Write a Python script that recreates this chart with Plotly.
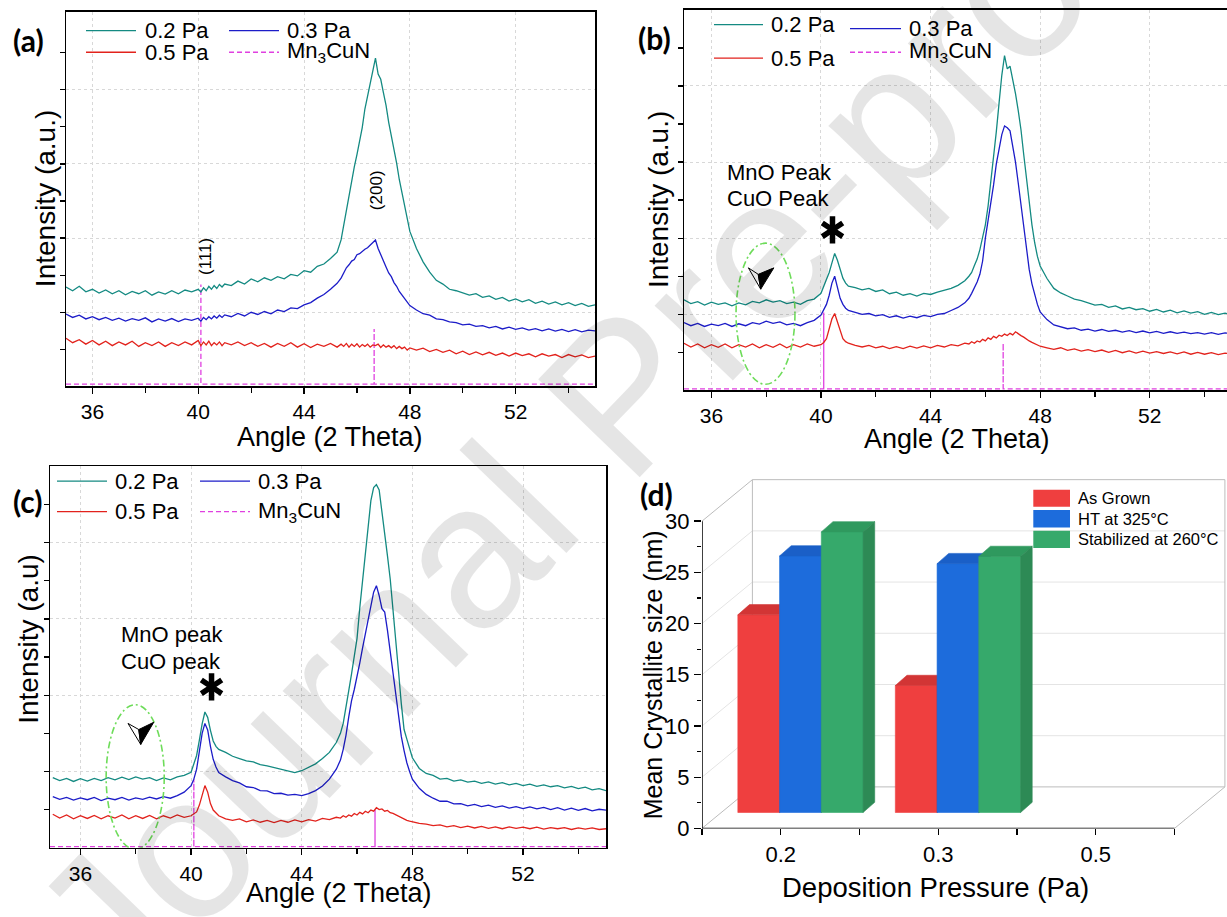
import plotly.graph_objects as go

W, H = 1227, 917
FONT = "Liberation Sans, Arial, sans-serif"
LABEL_FONT = "Lato, Open Sans, sans-serif"

# ---------------- XRD data ----------------
SEGMENTS = [(35.0, 0.25, 20), (40.0, 0.1, 11), (41.25, 0.25, 17), (45.4, 0.1, 27), (48.25, 0.25, 28)]
THETA = [round(s + i * d, 2) for s, d, n in SEGMENTS for i in range(n)]

# panel (a)
A_02 = ([2.68, 2.58, 2.70, 2.55, 2.62, 2.52, 2.60, 2.50, 2.58, 2.47, 2.56, 2.50, 2.58, 2.46, 2.55, 2.49, 2.58, 2.50, 2.60, 2.55]
        + [2.62, 2.55, 2.66, 2.58, 2.70, 2.62, 2.72, 2.64, 2.75, 2.68, 2.76]
        + [2.72, 2.84, 2.76, 2.90, 2.82, 2.93, 2.86, 2.96, 2.90, 3.02, 2.98, 3.12, 3.08, 3.24, 3.30, 3.45, 3.62]
        + [3.95, 4.35, 4.80, 5.20, 5.50, 5.92, 6.25, 6.62, 6.98, 7.48, 7.82, 8.25, 8.50, 8.85, 8.42, 8.28, 7.92, 7.58, 7.12, 6.78, 6.38, 6.02, 5.58, 5.22, 4.82, 4.52, 4.18]
        + [3.72, 3.36, 3.08, 2.86, 2.76, 2.62, 2.58, 2.52, 2.46, 2.50, 2.40, 2.44, 2.35, 2.40, 2.30, 2.36, 2.28, 2.34, 2.24, 2.30, 2.22, 2.28, 2.20, 2.26, 2.18, 2.24, 2.16, 2.20])
A_03 = ([1.95, 1.86, 1.92, 1.82, 1.88, 1.80, 1.86, 1.78, 1.84, 1.76, 1.83, 1.78, 1.85, 1.74, 1.82, 1.76, 1.83, 1.75, 1.82, 1.78]
        + [1.84, 1.76, 1.86, 1.80, 1.88, 1.82, 1.90, 1.84, 1.92, 1.86, 1.93]
        + [1.88, 1.97, 1.90, 2.00, 1.94, 2.02, 1.96, 2.06, 2.02, 2.12, 2.10, 2.20, 2.26, 2.38, 2.48, 2.62, 2.78]
        + [2.92, 3.05, 3.20, 3.28, 3.38, 3.42, 3.55, 3.58, 3.65, 3.70, 3.74, 3.82, 3.88, 3.95, 3.72, 3.55, 3.34, 3.22, 3.06, 2.96, 2.80, 2.70, 2.56, 2.46, 2.36, 2.26, 2.18]
        + [2.06, 1.96, 1.92, 1.82, 1.80, 1.74, 1.72, 1.66, 1.68, 1.62, 1.64, 1.58, 1.62, 1.55, 1.60, 1.54, 1.58, 1.52, 1.56, 1.50, 1.55, 1.49, 1.54, 1.48, 1.53, 1.47, 1.52, 1.50])
A_05 = ([1.30, 1.18, 1.26, 1.14, 1.24, 1.12, 1.22, 1.10, 1.20, 1.12, 1.22, 1.08, 1.18, 1.10, 1.20, 1.08, 1.18, 1.10, 1.20, 1.12]
        + [1.24, 1.10, 1.20, 1.12, 1.22, 1.10, 1.18, 1.12, 1.20, 1.10, 1.18]
        + [1.12, 1.20, 1.10, 1.18, 1.08, 1.16, 1.06, 1.16, 1.08, 1.18, 1.06, 1.15, 1.05, 1.14, 1.08, 1.16, 1.06]
        + [1.14, 1.08, 1.16, 1.06, 1.14, 1.08, 1.15, 1.06, 1.13, 1.08, 1.14, 1.06, 1.12, 1.10, 1.14, 1.05, 1.12, 1.06, 1.10, 1.04, 1.10, 1.02, 1.08, 1.02, 1.06, 0.98, 1.04]
        + [0.98, 1.03, 0.94, 1.00, 0.92, 0.98, 0.88, 0.95, 0.86, 0.93, 0.85, 0.92, 0.84, 0.90, 0.82, 0.90, 0.83, 0.88, 0.80, 0.88, 0.82, 0.86, 0.78, 0.86, 0.80, 0.85, 0.78, 0.82])

# panel (b)
B_02 = ([2.38, 2.28, 2.33, 2.24, 2.32, 2.26, 2.30, 2.22, 2.30, 2.25, 2.34, 2.30, 2.38, 2.32, 2.36, 2.28, 2.32, 2.26, 2.36, 2.40]
        + [2.55, 2.72, 2.90, 3.10, 3.35, 3.60, 3.42, 3.15, 2.95, 2.82, 2.74]
        + [2.70, 2.64, 2.68, 2.60, 2.64, 2.54, 2.58, 2.50, 2.54, 2.48, 2.55, 2.52, 2.58, 2.62, 2.68, 2.76, 2.88]
        + [3.00, 3.10, 3.28, 3.45, 3.70, 4.00, 4.35, 4.85, 5.45, 6.05, 6.80, 7.55, 8.28, 8.80, 8.45, 8.52, 8.18, 7.80, 7.35, 6.85, 6.20, 5.55, 4.90, 4.35, 3.88, 3.52, 3.27]
        + [2.94, 2.68, 2.56, 2.48, 2.40, 2.36, 2.30, 2.24, 2.26, 2.18, 2.22, 2.14, 2.18, 2.12, 2.15, 2.08, 2.13, 2.06, 2.11, 2.04, 2.09, 2.03, 2.07, 2.00, 2.05, 1.99, 2.03, 1.99])
B_03 = ([1.78, 1.70, 1.76, 1.68, 1.74, 1.70, 1.76, 1.68, 1.75, 1.70, 1.78, 1.74, 1.82, 1.76, 1.80, 1.72, 1.76, 1.70, 1.78, 1.84]
        + [1.98, 2.12, 2.26, 2.50, 2.82, 3.00, 2.70, 2.42, 2.26, 2.16, 2.10]
        + [2.04, 2.00, 2.02, 1.96, 1.99, 1.92, 1.96, 1.90, 1.95, 1.91, 1.97, 1.94, 2.00, 2.02, 2.10, 2.18, 2.30]
        + [2.42, 2.55, 2.68, 2.85, 3.05, 3.40, 4.00, 4.45, 4.90, 5.40, 5.95, 6.35, 6.72, 6.95, 6.90, 6.82, 6.46, 6.00, 5.45, 4.85, 4.22, 3.70, 3.18, 2.80, 2.50, 2.26, 2.06]
        + [1.86, 1.72, 1.68, 1.62, 1.64, 1.58, 1.61, 1.56, 1.60, 1.55, 1.58, 1.53, 1.57, 1.52, 1.56, 1.51, 1.55, 1.50, 1.54, 1.50, 1.53, 1.49, 1.52, 1.48, 1.52, 1.47, 1.51, 1.49])
B_05 = ([1.24, 1.14, 1.22, 1.12, 1.20, 1.13, 1.22, 1.12, 1.20, 1.14, 1.22, 1.12, 1.20, 1.13, 1.22, 1.12, 1.20, 1.14, 1.22, 1.16]
        + [1.20, 1.26, 1.36, 1.62, 1.88, 2.02, 1.80, 1.54, 1.36, 1.28, 1.24]
        + [1.18, 1.14, 1.18, 1.12, 1.16, 1.10, 1.15, 1.10, 1.16, 1.11, 1.17, 1.12, 1.18, 1.14, 1.20, 1.17, 1.24]
        + [1.22, 1.28, 1.24, 1.30, 1.27, 1.34, 1.30, 1.38, 1.34, 1.42, 1.38, 1.45, 1.42, 1.48, 1.44, 1.50, 1.46, 1.54, 1.48, 1.44, 1.40, 1.34, 1.30, 1.26, 1.22, 1.20, 1.16]
        + [1.12, 1.08, 1.12, 1.05, 1.09, 1.03, 1.07, 1.02, 1.06, 1.00, 1.05, 0.99, 1.04, 0.98, 1.03, 0.98, 1.02, 0.97, 1.01, 0.96, 1.01, 0.95, 1.00, 0.95, 0.99, 0.94, 0.98, 0.95])

# panel (c)
C_02 = ([1.84, 1.76, 1.82, 1.74, 1.81, 1.75, 1.82, 1.76, 1.84, 1.78, 1.85, 1.79, 1.86, 1.80, 1.84, 1.76, 1.83, 1.78, 1.86, 1.90]
        + [1.98, 2.18, 2.42, 2.82, 3.25, 3.56, 3.42, 3.08, 2.80, 2.66, 2.58]
        + [2.50, 2.40, 2.34, 2.28, 2.25, 2.18, 2.15, 2.10, 2.05, 2.02, 1.97, 2.02, 2.10, 2.20, 2.34, 2.50, 2.76]
        + [3.00, 3.26, 3.65, 4.12, 4.55, 5.00, 5.49, 6.30, 7.04, 7.80, 8.41, 9.10, 9.44, 9.52, 9.38, 8.84, 8.24, 7.65, 7.04, 6.30, 5.49, 4.62, 3.78, 3.10, 2.85, 2.58, 2.36]
        + [2.08, 1.95, 1.90, 1.80, 1.82, 1.75, 1.78, 1.72, 1.75, 1.69, 1.73, 1.67, 1.71, 1.65, 1.69, 1.63, 1.67, 1.61, 1.65, 1.60, 1.63, 1.57, 1.61, 1.55, 1.59, 1.52, 1.55, 1.50])
C_03 = ([1.34, 1.27, 1.32, 1.25, 1.31, 1.26, 1.32, 1.24, 1.30, 1.26, 1.32, 1.25, 1.31, 1.27, 1.33, 1.28, 1.34, 1.30, 1.37, 1.46]
        + [1.63, 1.80, 2.06, 2.58, 3.00, 3.26, 3.09, 2.66, 2.32, 2.12, 1.97]
        + [1.86, 1.76, 1.70, 1.60, 1.58, 1.50, 1.49, 1.42, 1.43, 1.38, 1.40, 1.37, 1.42, 1.50, 1.62, 1.80, 2.06]
        + [2.30, 2.58, 2.95, 3.43, 3.85, 4.15, 4.46, 4.85, 5.24, 5.60, 6.00, 6.35, 6.70, 6.87, 6.61, 6.27, 6.18, 5.70, 5.15, 4.55, 3.95, 3.40, 2.92, 2.55, 2.23, 2.00, 1.80]
        + [1.56, 1.40, 1.30, 1.22, 1.22, 1.15, 1.16, 1.10, 1.14, 1.08, 1.12, 1.06, 1.10, 1.04, 1.08, 1.03, 1.07, 1.02, 1.06, 1.00, 1.05, 0.99, 1.04, 0.98, 1.03, 0.97, 1.01, 0.99])
C_05 = ([0.88, 0.78, 0.86, 0.76, 0.84, 0.77, 0.85, 0.76, 0.84, 0.78, 0.86, 0.76, 0.84, 0.77, 0.85, 0.76, 0.84, 0.78, 0.86, 0.80]
        + [0.84, 0.88, 0.94, 1.12, 1.37, 1.63, 1.46, 1.16, 0.99, 0.90, 0.84]
        + [0.76, 0.72, 0.76, 0.68, 0.73, 0.67, 0.72, 0.66, 0.72, 0.67, 0.73, 0.68, 0.74, 0.70, 0.77, 0.74, 0.80]
        + [0.78, 0.84, 0.80, 0.86, 0.83, 0.90, 0.86, 0.93, 0.89, 0.96, 0.92, 0.99, 0.96, 1.05, 1.00, 1.02, 0.96, 0.98, 0.92, 0.90, 0.86, 0.84, 0.78, 0.76, 0.72, 0.70, 0.68]
        + [0.64, 0.62, 0.58, 0.60, 0.55, 0.58, 0.53, 0.57, 0.52, 0.56, 0.51, 0.55, 0.50, 0.55, 0.51, 0.54, 0.50, 0.54, 0.49, 0.53, 0.50, 0.53, 0.48, 0.52, 0.49, 0.52, 0.48, 0.50])

# Mn3CuN reference pattern: peak positions and drawn stick heights per panel
REF_POS = [40.1, 46.65]
REF_A = [2.75, 1.55]
REF_B = [2.05, 1.24]
REF_C = [1.80, 0.99]
REF_BASE = [0.06, 0.04, 0.03]

# ---------------- Bar data (panel d) ----------------
PRESSURES = ["0.2", "0.3", "0.5"]
AS_GROWN = [19.3, 12.4, None]
HT_325 = [25.05, 24.3, None]
STAB_260 = [27.4, 25.0, None]
BAR_SERIES = ["As Grown", "HT at 325°C", "Stabilized at 260°C"]

for s in (A_02, A_03, A_05, B_02, B_03, B_05, C_02, C_03, C_05):
    assert len(s) == len(THETA), (len(s), len(THETA))

TEAL, BLUE, RED, MAG = "#148a82", "#1c1cc8", "#e2221c", "#e040e0"
ELL = "#6edc5a"


def px(x):
    return x / W


def py(y):
    return 1 - y / H


fig = go.Figure()
shapes, annotations = [], []

panels = [
    dict(ax="", xr=[35, 55], yr=[0, 10.1], xd=[66, 595], yd=[12, 392], data=(A_02, A_03, A_05), ref=REF_A, base=REF_BASE[0], mirror_y=True),
    dict(ax="2", xr=[35, 54.82], yr=[0, 10.0], xd=[684, 1227], yd=[10, 396], data=(B_02, B_03, B_05), ref=REF_B, base=REF_BASE[1], mirror_y=False),
    dict(ax="3", xr=[34.9, 55], yr=[0, 10.0], xd=[50, 606], yd=[473, 860], data=(C_02, C_03, C_05), ref=REF_C, base=REF_BASE[2], mirror_y=True),
]

layout_axes = {}
for p in panels:
    xa, ya = "x" + p["ax"], "y" + p["ax"]
    xmin, xmax = p["xr"]
    b = p["base"]
    sx, sy = [xmin], [b]
    for pos, hgt in zip(REF_POS, p["ref"]):
        sx += [pos, pos, pos]
        sy += [b, hgt, b]
    sx.append(xmax)
    sy.append(b)
    fig.add_trace(go.Scatter(x=sx, y=sy, mode="lines", line=dict(color=MAG, width=1.3, dash="5px,3px"),
                             xaxis=xa, yaxis=ya, showlegend=False, name="Mn3CuN"))
    for series, col, nm in zip(p["data"], (TEAL, BLUE, RED), ("0.2 Pa", "0.3 Pa", "0.5 Pa")):
        fig.add_trace(go.Scatter(x=THETA, y=series, mode="lines", line=dict(color=col, width=1.3),
                                 xaxis=xa, yaxis=ya, showlegend=False, name=nm))
    key = p["ax"]
    layout_axes["xaxis" + key] = dict(
        domain=[px(p["xd"][0]), px(p["xd"][1])], range=p["xr"], anchor=ya,
        tickvals=[36, 40, 44, 48, 52], ticks="outside", ticklen=6, tickwidth=1.3, tickcolor="black",
        showline=True, linecolor="black", linewidth=1.5, mirror=True,
        showgrid=True, gridcolor="#d8d8d8", griddash="dot", gridwidth=1, zeroline=False,
        tickfont=dict(family=FONT, size=21, color="black"),
        minor=dict(tickvals=[38, 42, 46, 50, 54], ticks="outside", ticklen=5, tickcolor="black", showgrid=False),
        fixedrange=True)
    layout_axes["yaxis" + key] = dict(
        domain=[py(p["yd"][1]), py(p["yd"][0])], range=p["yr"], anchor=xa,
        tickvals=[2, 4, 6, 8], ticks="outside", ticklen=5, tickwidth=1.3, tickcolor="black",
        showticklabels=False, showline=True, linecolor="black", linewidth=1.5, mirror=p["mirror_y"],
        showgrid=True, gridcolor="#d8d8d8", griddash="dot", gridwidth=1, zeroline=False,
        minor=dict(tickvals=[1, 3, 5, 7, 9], ticks="outside", ticklen=5, tickcolor="black", showgrid=False),
        fixedrange=True)


def legend_entry(x0, x1, y, color, dash, text, tx, size=22):
    shapes.append(dict(type="line", xref="paper", yref="paper", x0=px(x0), x1=px(x1), y0=py(y), y1=py(y),
                       line=dict(color=color, width=1.3, dash=dash)))
    annotations.append(dict(text=text, x=px(tx), y=py(y), xref="paper", yref="paper", xanchor="left",
                            yanchor="middle", showarrow=False, font=dict(family=FONT, size=size, color="black")))


MN = "Mn<sub>3</sub>CuN"
# legend (a)
legend_entry(86, 136, 31, TEAL, "solid", "0.2 Pa", 143)
legend_entry(229, 279, 31, BLUE, "solid", "0.3 Pa", 285)
legend_entry(86, 136, 53, RED, "solid", "0.5 Pa", 143)
legend_entry(229, 279, 53, MAG, "5px,3px", MN, 285)
# legend (b)
legend_entry(714, 763, 25, TEAL, "solid", "0.2 Pa", 769)
legend_entry(850, 901, 29, BLUE, "solid", "0.3 Pa", 907)
legend_entry(714, 763, 59, RED, "solid", "0.5 Pa", 769)
legend_entry(850, 901, 53, MAG, "5px,3px", MN, 907)
# legend (c)
legend_entry(57, 107, 488, TEAL, "solid", "0.2 Pa", 113)
legend_entry(200, 250, 488, BLUE, "solid", "0.3 Pa", 256)
legend_entry(57, 107, 519, RED, "solid", "0.5 Pa", 113)
legend_entry(200, 250, 519, MAG, "5px,3px", MN, 256)


def paper_text(text, x, y, size, angle=0, bold=False, family=FONT):
    annotations.append(dict(text=f"<b>{text}</b>" if bold else text, x=px(x), y=py(y), xref="paper", yref="paper",
                            xanchor="center", yanchor="middle", showarrow=False, textangle=angle,
                            font=dict(family=family, size=size, color="black")))


# axis titles & panel labels
paper_text("Angle (2 Theta)", 330, 443, 27)
paper_text("Intensity (a.u.)", 45, 202, 28, -90)
paper_text("Angle (2 Theta)", 957, 445, 27)
paper_text("Intensity (a.u.)", 658, 203, 28, -90)
paper_text("Angle (2 Theta)", 339, 906, 27)
paper_text("Intensity (a.u)", 29, 648, 28, -90)
paper_text("Deposition Pressure (Pa)", 935, 900, 27.5)
paper_text("Mean Crystallite size (nm)", 653, 685, 25, -90)
paper_text("(a)", 28, 41, 30, bold=True, family=LABEL_FONT)
paper_text("(b)", 654, 39, 30, bold=True, family=LABEL_FONT)
paper_text("(c)", 28, 508, 30, bold=True, family=LABEL_FONT)
paper_text("(d)", 656, 501, 30, bold=True, family=LABEL_FONT)


def data_text(text, x, y, ax, size, angle=0):
    annotations.append(dict(text=text, x=x, y=y, xref="x" + ax, yref="y" + ax, xanchor="center", yanchor="middle",
                            showarrow=False, textangle=angle, font=dict(family=FONT, size=size, color="black")))


data_text("(111)", 40.27, 3.5, "", 17, -90)
data_text("(200)", 46.74, 5.28, "", 17, -90)
data_text("MnO Peak", 38.5, 5.73, "2", 22)
data_text("CuO Peak", 38.43, 5.03, "2", 22)
data_text("MnO peak", 39.3, 5.6, "3", 22)
data_text("CuO peak", 39.28, 4.89, "3", 22)

# asterisks
for ax, (ax_x, ax_y) in (("2", (40.42, 4.22)), ("3", (40.74, 4.22))):
    for sym in ("y-up-open", "y-down-open"):
        fig.add_trace(go.Scatter(x=[ax_x], y=[ax_y], mode="markers", xaxis="x" + ax, yaxis="y" + ax,
                                 marker=dict(symbol=sym, size=17, color="black", line=dict(width=5.5, color="black")),
                                 showlegend=False, hoverinfo="skip"))

# ellipses and arrow-heads
for ax, (x0, x1, y0, y1), (L, N, T, R) in (
        ("2", (36.9, 39.05, 0.16, 3.87), ((37.35, 3.22), (37.71, 3.05), (37.80, 2.66), (38.28, 3.22))),
        ("3", (36.93, 39.03, -0.04, 3.75), ((37.72, 3.26), (38.11, 3.10), (38.18, 2.71), (38.65, 3.29)))):
    shapes.append(dict(type="circle", xref="x" + ax, yref="y" + ax, x0=x0, x1=x1, y0=y0, y1=y1,
                       line=dict(color=ELL, width=1.6, dash="7px,3px,2px,3px")))
    left = f"M{L[0]},{L[1]} L{N[0]},{N[1]} L{T[0]},{T[1]} Z"
    right = f"M{R[0]},{R[1]} L{N[0]},{N[1]} L{T[0]},{T[1]} Z"
    shapes.append(dict(type="path", xref="x" + ax, yref="y" + ax, path=left, fillcolor="white",
                       line=dict(color="black", width=1)))
    shapes.append(dict(type="path", xref="x" + ax, yref="y" + ax, path=right, fillcolor="black",
                       line=dict(color="black", width=1)))

# ---------------- panel (d): pseudo-3D bars ----------------
DX, DY = 0.32, 4.05          # depth of the box (category units, nm units)
BASE, SHIFT = 1.55, 0.125    # bar plane offset
BW, BDX, BDY = 0.265, 0.074, 1.0
FACE = [("#ef3f3f", "#d23535", "#c22f2f"), ("#1d6cdc", "#1a5fc7", "#1855b3"), ("#36a96b", "#2f995e", "#2d8a55")]

grid = "#e4e4e4"
frame = "#bcbcbc"
for v in (5, 10, 15, 20, 25):
    shapes.append(dict(type="line", xref="x4", yref="y4", x0=0.5 + DX, x1=3.5 + DX, y0=v + DY, y1=v + DY,
                       line=dict(color=grid, width=1), layer="below"))
    shapes.append(dict(type="line", xref="x4", yref="y4", x0=0.5, x1=0.5 + DX, y0=v, y1=v + DY,
                       line=dict(color=grid, width=1), layer="below"))
for (xa0, ya0, xa1, ya1) in ((0.5, 0, 0.5 + DX, DY), (0.5, 30, 0.5 + DX, 30 + DY), (3.5, 0, 3.5 + DX, DY),
                             (0.5 + DX, DY, 0.5 + DX, 30 + DY), (0.5 + DX, 30 + DY, 3.5 + DX, 30 + DY),
                             (3.5 + DX, DY, 3.5 + DX, 30 + DY), (0.5 + DX, DY, 3.5 + DX, DY)):
    shapes.append(dict(type="line", xref="x4", yref="y4", x0=xa0, x1=xa1, y0=ya0, y1=ya1,
                       line=dict(color=frame, width=1), layer="below"))
shapes.append(dict(type="line", xref="x4", yref="y4", x0=0.5, x1=0.5, y0=0, y1=30, line=dict(color="black", width=1.5)))
shapes.append(dict(type="line", xref="x4", yref="y4", x0=0.5, x1=3.5, y0=0, y1=0, line=dict(color="black", width=1.5)))


def poly(xs, ys, color, name):
    fig.add_trace(go.Scatter(x=xs + [xs[0]], y=ys + [ys[0]], mode="lines", fill="toself", fillcolor=color,
                             line=dict(color=color, width=0.6), xaxis="x4", yaxis="y4", showlegend=False,
                             name=name, hoverinfo="skip"))


for ci, cat in enumerate(PRESSURES):
    center = ci + 1
    for k, vals in enumerate((AS_GROWN, HT_325, STAB_260)):
        v = vals[ci]
        if v is None:
            continue
        x0 = center + SHIFT - 1.5 * BW + k * BW
        x1 = x0 + BW
        top = BASE + v
        front, tcol, scol = FACE[k]
        poly([x0, x1, x1, x0], [BASE, BASE, top, top], front, BAR_SERIES[k])
        poly([x0, x1, x1 + BDX, x0 + BDX], [top, top, top + BDY, top + BDY], tcol, BAR_SERIES[k])
        poly([x1, x1 + BDX, x1 + BDX, x1], [BASE, BASE + BDY, top + BDY, top], scol, BAR_SERIES[k])

layout_axes["xaxis4"] = dict(domain=[px(702), px(1226.5)], range=[0.5, 3.83], anchor="y4",
                             tickvals=[1, 2, 3], ticktext=PRESSURES, ticks="outside", ticklen=6, tickwidth=1.3,
                             tickcolor="black", showline=False, showgrid=False, zeroline=False,
                             tickfont=dict(family=FONT, size=22, color="black"),
                             minor=dict(tickvals=[0.5, 1.5, 2.5, 3.5], ticks="outside", ticklen=6, tickcolor="black"),
                             fixedrange=True)
layout_axes["yaxis4"] = dict(domain=[py(840.3), py(485)], range=[0, 34.2], anchor="x4",
                             tickvals=[0, 5, 10, 15, 20, 25, 30], ticks="outside", ticklen=7, tickwidth=1.3,
                             tickcolor="black", showline=False, showgrid=False, zeroline=False,
                             tickfont=dict(family=FONT, size=22, color="black"),
                             minor=dict(tickvals=[2.5, 7.5, 12.5, 17.5, 22.5, 27.5], ticks="outside", ticklen=4,
                                        tickcolor="black"),
                             fixedrange=True)

# legend (d)
for k, (name, rows) in enumerate(zip(BAR_SERIES, ((496.7, 514), (517.3, 535), (538.3, 556)))):
    shapes.append(dict(type="rect", xref="paper", yref="paper", x0=px(1033.3), x1=px(1070), y0=py(rows[1]),
                       y1=py(rows[0]), fillcolor=FACE[k][0], line=dict(width=0)))
    annotations.append(dict(text=name, x=px(1076), y=py((rows[0] + rows[1]) / 2), xref="paper", yref="paper",
                            xanchor="left", yanchor="middle", showarrow=False,
                            font=dict(family=FONT, size=16.5, color="black")))

# watermark
annotations.append(dict(text="Journal Pre-proof", x=px(620), y=py(400), xref="paper", yref="paper", showarrow=False,
                        textangle=-46, font=dict(family=FONT, size=205, color="rgba(0,0,0,0.10)")))

fig.update_layout(width=W, height=H, autosize=False, margin=dict(l=0, r=0, t=0, b=0),
                  paper_bgcolor="white", plot_bgcolor="white", showlegend=False,
                  shapes=shapes, annotations=annotations, **layout_axes)

fig.write_html("out.html", config={"displayModeBar": False, "staticPlot": True},
               post_script="document.body.style.margin='0';document.body.style.overflow='hidden';")
